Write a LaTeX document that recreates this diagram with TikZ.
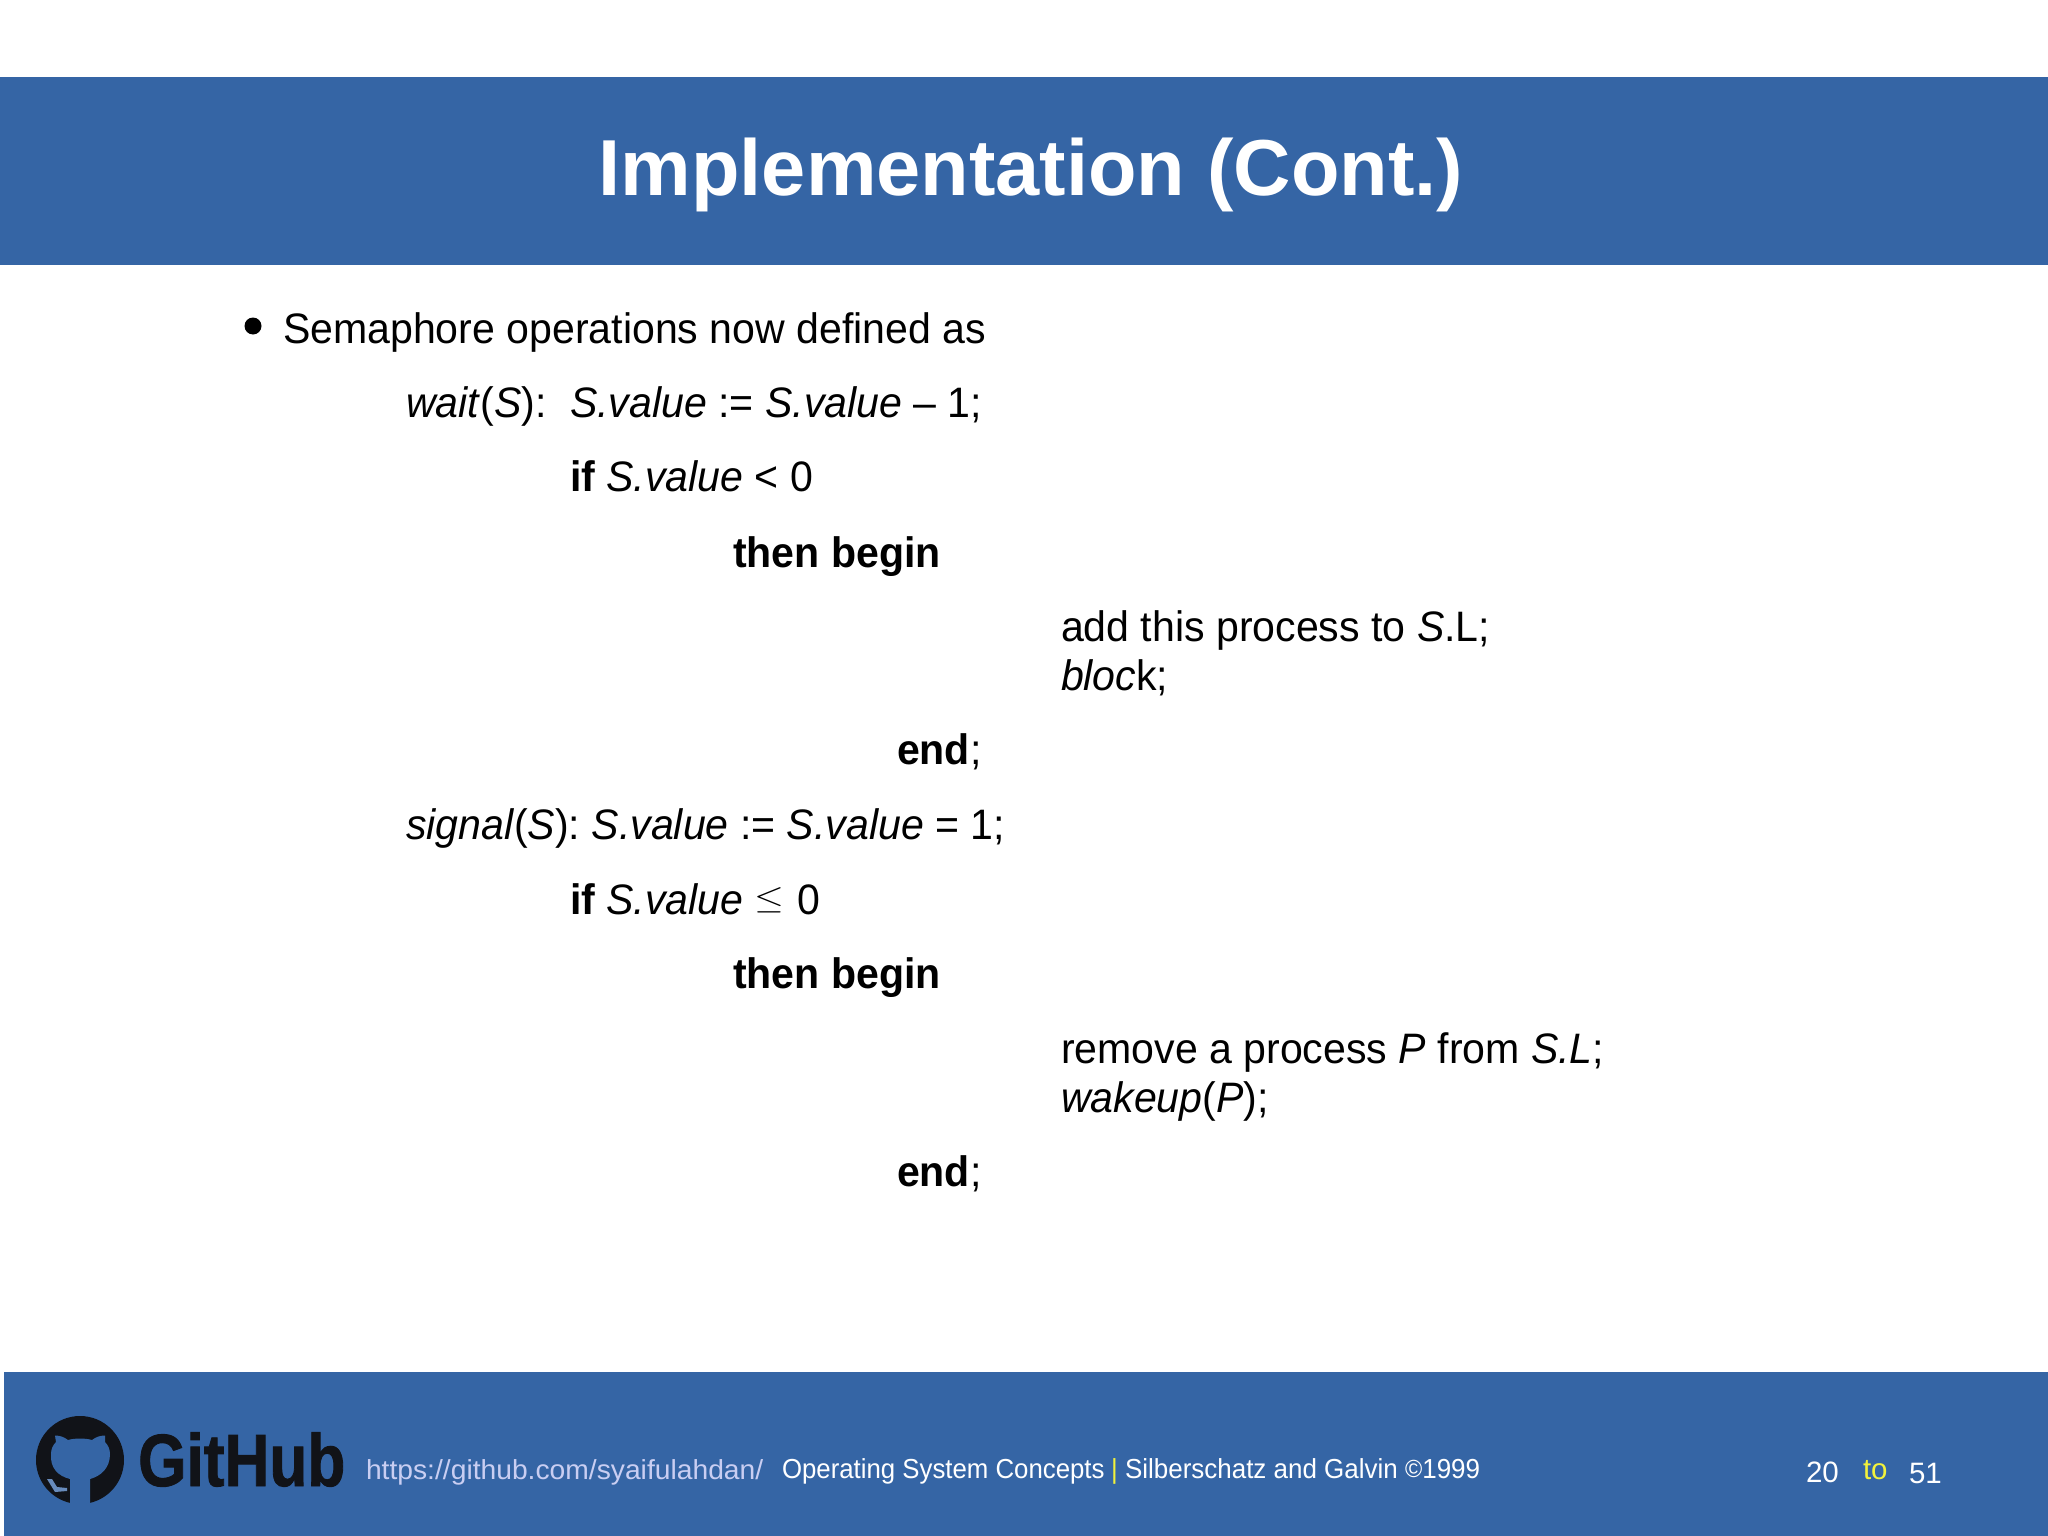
\documentclass[tikz,border=0pt]{standalone}
\usepackage{fontspec}
\setmainfont{Liberation Sans}
\newfontfamily\ghfont[FakeBold=1.3,UprightFont=* Bold]{Liberation Sans}
\definecolor{band}{HTML}{3565A5}
\definecolor{urlc}{HTML}{C9CEF2}
\definecolor{yel}{HTML}{F2F23C}
\definecolor{logoblk}{HTML}{111318}
\tikzset{
  txt/.style={anchor=base west,inner sep=0pt,outer sep=0pt,xscale=.964,font=\fontsize{42.6}{50}\selectfont,text=black},
  foot/.style={anchor=base west,inner sep=0pt,outer sep=0pt,xscale=.938,font=\fontsize{27.5}{32}\selectfont,text=white},
  num/.style={anchor=base west,inner sep=0pt,outer sep=0pt,font=\fontsize{29.5}{34}\selectfont,text=white}
}
\begin{document}
\begin{tikzpicture}[x=1pt,y=-1pt]
\useasboundingbox (0,0) rectangle (2048,1536);
\fill[white] (0,0) rectangle (2048,1536);
\fill[band] (0,77) rectangle (2048,265);
\fill[band] (4,1372) rectangle (2048,1536);
\node[anchor=base,inner sep=0pt,text=white,font=\fontsize{79.4}{90}\selectfont\bfseries] (title) at (1031,195) {Implementation (Cont.)};
\fill[black] (253,326) circle (8.5);
\node[txt] (l0) at (283,343.5) {Semaphore operations now defined as};
\node[txt] (l1) at (406,417) {\textit{wait}(\textit{S}):};
\node[txt] (l1b) at (570,417) {\textit{S.value} := \textit{S.value} – 1;};
\node[txt] (l2) at (570,491) {\textbf{if} \textit{S.value} < 0};
\node[txt] (l3) at (733,567) {\textbf{then begin}};
\node[txt] (l4) at (1061,641) {add this process to \textit{S}.L;};
\node[txt] (l5) at (1061,690) {\textit{bloc}k;};
\node[txt] (l6) at (897,764) {\textbf{end};};
\node[txt] (l7) at (406,839) {\textit{signal}(\textit{S}): \textit{S.value} := \textit{S.value} = 1;};
\node[txt] (l8) at (570,914) {\textbf{if} \textit{S.value} \raisebox{6pt}{\scalebox{1.6}[1.32]{$\leq$}}\hspace{1pt} 0};
\node[txt] (l9) at (733,988) {\textbf{then begin}};
\node[txt] (l10) at (1061,1063) {remove a process \textit{P} from \textit{S.L};};
\node[txt] (l11) at (1061,1112.5) {\textit{wakeup}(\textit{P});};
\node[txt] (l12) at (897,1186) {\textbf{end};};
% logo
\fill[logoblk] (80,1460) circle (44);
\fill[band] (70,1505) -- (70,1479) .. controls (58,1476) and (50,1468) .. (51,1454)
  .. controls (51,1449) and (53,1445) .. (56,1442) -- (55,1435.5) .. controls (60,1435.5) and (64,1437) .. (68,1440)
  .. controls (75,1438) and (85,1438) .. (92,1440) .. controls (96,1437) and (100,1435.5) .. (105,1435.5)
  -- (105,1442) .. controls (108,1445) and (110,1449) .. (110,1454) .. controls (110,1468) and (101,1476) .. (90,1479)
  -- (90,1505) .. controls (84,1506) and (76,1506) .. (70,1505) -- cycle;
\fill[band!75!white] (47,1479) -- (52,1479) -- (57,1487) -- (67,1488) -- (67,1491) -- (55,1492) -- cycle;
\node[anchor=base west,inner sep=0pt,text=logoblk,font=\fontsize{74}{80}\ghfont,xscale=.84] (gh) at (138,1486) {GitHub};
\node[foot,text=urlc,xscale=1.095] (url) at (366,1479) {https://github.com/syaifulahdan/};
\node[foot] (os) at (782,1478) {Operating System Concepts};
\node[foot,text=yel] (bar) at (1111,1478) {|};
\node[foot,xscale=1.007] (sg) at (1125,1478) {Silberschatz and Galvin \raisebox{.5pt}{\scalebox{.9}{©}}1999};
\node[num] (n20) at (1806,1482) {20};
\node[num,text=yel] (nto) at (1863,1479) {to};
\node[num] (n51) at (1909,1483) {51};
\end{tikzpicture}
\end{document}
